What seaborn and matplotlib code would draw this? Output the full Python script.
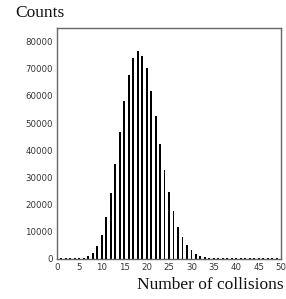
import numpy as np
import pandas as pd
import matplotlib
matplotlib.use("Agg")
import matplotlib.pyplot as plt
import seaborn as sns
from matplotlib.ticker import MultipleLocator

# --- data ---
collisions = list(range(0, 50))
counts = [0, 300, 300, 300, 300, 400, 500, 900, 2300, 4800,
          8800, 15500, 24300, 35100, 46700, 58100, 67900, 74000, 76400, 74900,
          70300, 62000, 52800, 42400, 32900, 24500, 17600, 11900, 8000, 5100,
          3300, 1800, 1200, 800, 500, 400, 300, 300, 300, 300,
          300, 300, 300, 300, 300, 300, 300, 300, 300, 300]
y_ticks = [0, 10000, 20000, 30000, 40000, 50000, 60000, 70000, 80000]
x_ticks = [0, 5, 10, 15, 20, 25, 30, 35, 40, 45, 50]

df = pd.DataFrame({"collisions": collisions, "counts": counts})

sns.set_style("white")
fig = plt.figure(figsize=(2.86, 2.99), dpi=100)
ax = fig.add_axes([0.199, 0.134, 0.784, 0.772])

sns.barplot(data=df, x="collisions", y="counts", native_scale=True,
            color="black", width=0.42, linewidth=0, saturation=1, ax=ax)

ax.set_xlim(0, 50)
ax.set_ylim(0, 85000)
ax.set_xticks(x_ticks)
ax.set_yticks(y_ticks)
ax.xaxis.set_minor_locator(MultipleLocator(1))
ax.yaxis.set_minor_locator(MultipleLocator(2000))
ax.set_xticklabels([str(t) for t in x_ticks])
ax.set_yticklabels([str(t) for t in y_ticks])

ax.tick_params(axis="both", which="major", direction="in", length=4, width=0.8,
               color="#444444", labelsize=6.2, labelcolor="#333333", pad=3)
ax.tick_params(axis="both", which="minor", direction="in", length=2, width=0.6,
               color="#444444")
ax.tick_params(top=False, right=False, which="both")

for s in ax.spines.values():
    s.set_color("#666666")
    s.set_linewidth(1.0)

ax.set_xlabel("")
ax.set_ylabel("")
fig.text(0.055, 0.956, "Counts", family="Liberation Serif", fontsize=12.5,
         ha="left", va="center", color="#111111")
fig.text(0.99, 0.048, "Number of collisions", family="Liberation Serif",
         fontsize=12.5, ha="right", va="center", color="#111111")

fig.savefig("out.png", dpi=100)
